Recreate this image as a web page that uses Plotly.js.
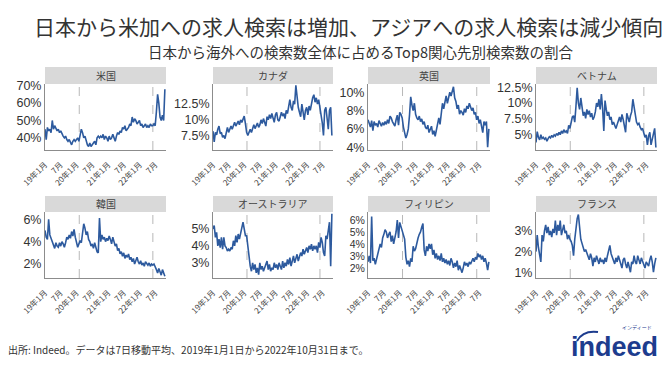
<!DOCTYPE html>
<html>
<head>
<meta charset="utf-8">
<script src="https://cdn.plot.ly/plotly-3.0.1.min.js"></script>
<style>html,body{margin:0;padding:0;background:#fff;}#chart{width:672px;height:366px;}</style>
</head>
<body>
<div id="chart"></div>
<script>
// ---- data (14-day sampling of the 7-day moving average, 2019-01-01 .. 2022-10) ----
const startDate = "2019-01-01";
const stepDays = 14;
const countries = ["米国", "カナダ", "英国", "ベトナム", "韓国", "オーストラリア", "フィリピン", "フランス"];

const us = [45,39,46,44,45,43, 50,45,47,45,44,45,43, 44,42,41,40,41,39,38, 39,37,36,38,39,38,
  39,40,38,41,45,43,40, 41,38,36,35,37,35, 36,37,38,36,40,41,40, 41,40,42,39,41,40,
  38,41,39,40,42,40,38, 41,43,42,44,43,46, 45,47,44,45,46,48,47, 52,49,51,50,48,49,
  50,47,48,46,47,48,46, 47,46,48,47,47,48, 47,55,65,60,52,50, 53,50,68];
const canada = [8.2,6.5,8.0,7.6,8.5,9.0,7.8, 8.0,7.2,7.5,7.0,8.2,8.8,8.0, 8.6,9.0,8.5,9.2,9.6,9.0,9.4,
  9.8,9.2,10.0,9.6,10.2,10.6,9.4, 8.0,7.5,8.2,8.5,8.0,8.8,9.2, 8.6,9.0,9.5,8.8,9.2,10.0,9.4,
  10.2,9.5,9.0,10.5,10.0,10.8,10.2, 11.0,10.4,9.6,10.8,11.2,10.0,9.8, 10.5,11.2,10.6,11.0,10.2,11.5,11.0,
  12.0,13.2,12.0,11.5,13.0,12.5,15.5, 13.0,12.0,11.2,10.5,12.5,11.0,10.0, 11.5,12.0,10.8,12.2,11.5,12.8,13.5,
  14.0,12.8,13.5,12.5,13.2,12.0,11.2, 9.5,7.5,11.5,12.0,10.0,8.5, 11.5,12.0,7.5];
const uk = [7.0,6.6,6.2,6.9,5.8,6.8,6.4, 6.6,6.2,6.9,6.5,6.3,6.7,6.4, 6.8,6.5,7.0,6.6,7.4,7.2,6.8,
  6.6,6.3,7.0,7.5,6.4,7.8,7.6, 7.2,6.2,5.5,5.0,5.4,6.0,7.5, 9.5,8.6,8.0,8.8,7.6,7.2,7.0,
  7.4,6.8,7.1,6.5,6.8,6.2,6.0, 6.4,5.6,5.9,6.3,5.4,5.8,5.2, 5.8,6.6,7.2,6.5,8.0,8.8,8.2,
  9.2,9.6,8.8,9.4,10.0,9.6,10.2, 10.6,9.4,9.0,8.2,8.6,7.6,8.0, 7.8,7.5,8.2,7.8,8.5,8.2,8.8,
  8.4,8.0,8.3,7.6,7.8,7.0,7.4, 6.6,7.0,6.2,5.6,6.8,6.4, 6.8,4.0,6.0];
const vietnam = [3.8,5.5,4.6,4.2,5.0,4.4,4.6, 4.3,4.5,4.0,4.4,4.7,4.5,4.9, 4.6,5.0,4.8,5.2,4.9,5.4,5.0,
  5.6,5.2,5.8,5.4,5.6,5.2,6.5, 6.0,7.2,7.8,8.0,7.0,9.5,12.4, 10.0,9.0,10.8,9.2,8.0,8.6,7.6,
  9.0,8.2,8.8,7.8,8.4,7.4,7.8, 8.6,10.0,9.4,10.6,9.0,11.4,9.2, 5.6,10.4,9.0,8.0,8.6,7.4,7.8,
  6.6,7.0,6.4,6.0,6.6,7.2,7.8, 7.0,8.2,7.4,6.6,5.4,8.4,7.6, 7.0,8.0,8.6,10.6,9.2,8.0,7.0,
  6.6,6.8,6.2,5.8,6.0,5.2,4.6, 5.0,3.4,4.8,5.4,3.4,4.2, 5.2,6.0,3.0];
const korea = [5.0,4.4,4.2,6.0,4.6,4.3,4.0, 3.8,3.4,3.9,3.6,3.5,3.9,3.6, 4.0,3.8,3.5,3.9,4.4,4.2,4.6,
  4.3,4.9,4.5,5.1,4.4,4.0,3.5, 3.8,4.1,3.9,4.6,5.6,5.2,4.6, 4.9,4.2,4.0,3.6,3.8,3.4,3.9,
  3.5,3.1,3.0,6.1,4.0,4.6,4.2, 4.4,4.0,4.3,4.1,4.5,4.2,3.8, 4.4,4.0,3.6,3.8,3.2,3.4,2.9,
  3.1,2.7,3.0,2.5,2.8,2.6,2.9, 2.4,2.6,2.2,2.5,2.0,2.3,2.6, 2.2,2.0,2.3,1.9,2.1,1.8,2.2,
  2.0,1.9,2.1,1.8,2.0,1.9,2.0, 1.8,1.5,1.2,1.6,1.3,1.0, 1.5,1.2,0.9];
const australia = [5.0,5.2,4.5,4.8,4.0,4.4,3.9, 4.5,3.8,4.5,4.0,3.9,3.7,3.8, 3.7,3.9,3.8,4.3,4.0,4.6,4.2,
  4.7,4.4,4.8,5.0,5.4,5.0,4.6, 4.6,4.0,3.2,2.8,2.5,3.0,2.6, 2.9,2.4,2.7,2.3,3.0,2.6,2.8,
  2.5,2.7,2.9,3.1,2.6,2.9,2.5, 2.7,2.6,3.0,2.7,2.9,2.6,3.0, 2.8,2.6,3.1,2.7,3.0,2.8,3.2,
  2.9,3.3,2.8,3.1,3.4,3.0,3.3, 3.5,3.1,3.3,3.6,3.4,3.8,3.5, 3.7,3.9,3.6,4.0,3.8,4.1,3.7,
  4.0,3.8,4.0,3.6,4.2,3.9,4.5, 4.2,3.6,3.4,4.6,4.4,4.9, 5.4,2.8,5.9];
const philippines = [2.5,3.0,2.4,6.3,2.6,2.8,2.3, 2.7,3.0,3.6,4.0,3.7,4.5,4.8, 5.2,5.0,4.5,4.8,5.0,4.2,4.7,
  4.0,4.6,5.0,6.0,4.5,5.8,5.4, 5.0,4.8,4.4,2.9,2.3,2.6,2.1, 2.8,2.5,3.8,3.4,3.6,4.2,4.5,
  4.8,5.0,5.4,5.7,3.5,3.0,3.8, 3.4,4.0,3.6,4.0,3.1,3.5,2.8, 3.2,2.7,3.0,2.6,3.2,2.5,2.8,
  2.4,2.7,2.3,2.6,2.2,2.8,2.5, 2.0,2.4,2.1,2.6,1.8,2.2,1.9, 1.6,2.0,2.5,2.2,2.4,2.1,2.5,
  2.3,2.6,2.8,2.5,2.9,2.7,3.2, 2.9,3.1,2.7,3.0,2.5,2.8, 2.4,1.8,2.5];
const france = [2.0,2.8,2.2,1.8,1.5,2.8,2.5, 3.0,3.3,2.9,3.2,2.8,3.0,2.7, 3.1,2.9,3.5,2.8,3.3,3.0,3.5,
  2.8,3.1,3.3,2.9,3.0,2.6,2.8, 2.6,2.5,2.3,1.8,2.6,3.2,3.6, 3.8,3.0,2.6,2.4,2.2,2.0,2.1,
  1.9,1.8,1.6,1.9,1.7,1.3,1.7, 1.5,1.8,1.6,1.4,1.7,1.5,1.6, 1.4,1.7,1.5,1.8,2.0,2.3,1.9,
  1.7,1.6,1.4,1.7,1.5,1.8,1.6, 1.4,1.2,1.6,1.7,1.4,1.2,1.5, 1.3,1.0,1.5,1.4,1.8,1.5,1.4,
  1.8,1.6,1.4,1.7,1.5,1.4,1.2, 1.5,1.4,1.3,1.6,1.8,1.5, 1.0,1.4,1.7];
const seriesList = [us, canada, uk, vietnam, korea, australia, philippines, france];

const yTickVals = [[40,50,60,70],[7.5,10,12.5],[4,6,8,10],[5,7.5,10,12.5],[2,4,6],[3,4,5],[2,3,4,5,6],[1,2,3]];
const yTickText = [["40%","50%","60%","70%"],["7.5%","10%","12.5%"],["4%","6%","8%","10%"],["5%","7.5%","10%","12.5%"],["2%","4%","6%"],["3%","4%","5%"],["2%","3%","4%","5%","6%"],["1%","2%","3%"]];
const yRanges = [[33,71],[5.2,15.7],[3.7,10.9],[2.6,13],[0.75,6.65],[2.1,6.0],[1.15,6.67],[0.72,3.92]];

const xTickVals = ["2019-01-01","2019-07-01","2020-01-01","2020-07-01","2021-01-01","2021-07-01","2022-01-01","2022-07-01"];
const xTickText = ["19年1月","7月","20年1月","7月","21年1月","7月","22年1月","7月"];
const markerDates = ["2020-02-01","2022-06-01"];
const xRange = ["2019-01-01","2022-10-31"];

const titleText = "日本から米加への求人検索は増加、アジアへの求人検索は減少傾向";
const subtitleText = "日本から海外への検索数全体に占めるTop8関心先別検索数の割合";
const footerText = "出所: Indeed。データは7日移動平均、2019年1月1日から2022年10月31日まで。";

// ---- build ----
const W = 672, H = 366;
const FONT = "'Noto Sans CJK JP', 'Noto Sans', sans-serif";
const NUMFONT = "'Liberation Sans', Arial, sans-serif";
const colX = [[45,166],[213,333],[368,490],[536,657]];
const rowY = [[84,150],[212,278]];
const stripY = [[67,84],[196,212]];

function dateAt(i){
  const d = new Date(Date.UTC(2019,0,1) + i*stepDays*86400000);
  return d.toISOString().slice(0,10);
}

const traces = [], shapes = [], annotations = [];
const layout = {
  width: W, height: H,
  margin: {l:0,r:0,t:0,b:0},
  paper_bgcolor: "#fff", plot_bgcolor: "#fff",
  showlegend: false,
  font: {family: FONT, color: "#333"},
};

seriesList.forEach((vals, k) => {
  const r = Math.floor(k/4), c = k%4;
  const n = k+1;
  const xa = "xaxis" + (n===1?"":n), ya = "yaxis" + (n===1?"":n);
  const xr = "x" + (n===1?"":n), yr = "y" + (n===1?"":n);
  const dates = vals.map((v,i)=>dateAt(i));
  traces.push({x: dates, y: vals, type: "scatter", mode: "lines",
    line: {color: "#2d5a9e", width: 1.6}, xaxis: xr, yaxis: yr, hoverinfo: "skip"});
  layout[xa] = {
    domain: [colX[c][0]/W, colX[c][1]/W], anchor: yr, type: "date",
    range: xRange, tickvals: xTickVals, ticktext: xTickText, tickangle: -45,
    tickfont: {size: 8, color: "#444", family: FONT}, showgrid: false, zeroline: false,
    showline: true, linecolor: "#8c8c8c", linewidth: 1, ticks: "", fixedrange: true,
    ticklabelstandoff: 6
  };
  layout[ya] = {
    domain: [1 - rowY[r][1]/H, 1 - rowY[r][0]/H], anchor: xr,
    range: yRanges[k], tickvals: yTickVals[k], ticktext: yTickText[k],
    tickfont: {size: k===6 ? 10.5 : 12.5, color: "#333", family: NUMFONT},
    showgrid: false, zeroline: false,
    showline: true, linecolor: "#8c8c8c", linewidth: 1, ticks: "", fixedrange: true
  };
  markerDates.forEach(d => shapes.push({type: "line", xref: xr, yref: yr + " domain",
    x0: d, x1: d, y0: 0, y1: 1, line: {color: "#b8b8b8", width: 1, dash: "dash"}, layer: "below"}));
  shapes.push({type: "rect", xref: "paper", yref: "paper",
    x0: colX[c][0]/W, x1: colX[c][1]/W, y0: 1 - stripY[r][1]/H, y1: 1 - stripY[r][0]/H,
    fillcolor: "#d9d9d9", line: {width: 0}});
  annotations.push({text: countries[k], xref: "paper", yref: "paper",
    x: (colX[c][0]+colX[c][1])/2/W, y: 1 - (stripY[r][0]+stripY[r][1])/2/H,
    xanchor: "center", yanchor: "middle", showarrow: false,
    font: {size: 10, color: "#444", family: FONT}});
});

annotations.push({text: titleText, xref: "paper", yref: "paper", x: 348/W, y: 1-26/H,
  xanchor: "center", yanchor: "middle", showarrow: false, font: {size: 21, color: "#333", family: FONT}});
annotations.push({text: subtitleText, xref: "paper", yref: "paper", x: 360/W, y: 1-52/H,
  xanchor: "center", yanchor: "middle", showarrow: false, font: {size: 14.5, color: "#333", family: FONT}});
annotations.push({text: footerText, xref: "paper", yref: "paper", x: 6/W, y: 1-349/H,
  xanchor: "left", yanchor: "middle", showarrow: false, font: {size: 10, color: "#333", family: FONT}});
annotations.push({text: "<b>indeed</b>", xref: "paper", yref: "paper", x: 614/W, y: 1-347/H,
  xanchor: "center", yanchor: "middle", showarrow: false,
  font: {size: 27, color: "#1d3c8e", family: NUMFONT}});
annotations.push({text: "インディード", xref: "paper", yref: "paper", x: 637/W, y: 1-327/H,
  xanchor: "center", yanchor: "middle", showarrow: false, font: {size: 5, color: "#1d3c8e", family: FONT}});
shapes.push({type: "path", xref: "paper", yref: "paper",
  path: `M ${577/W} ${1-341/H} Q ${583/W} ${1-330/H} ${598/W} ${1-332/H}`,
  line: {color: "#1d3c8e", width: 2}});

layout.shapes = shapes;
layout.annotations = annotations;
Plotly.newPlot("chart", traces, layout, {displayModeBar: false, staticPlot: true});
</script>
</body>
</html>
